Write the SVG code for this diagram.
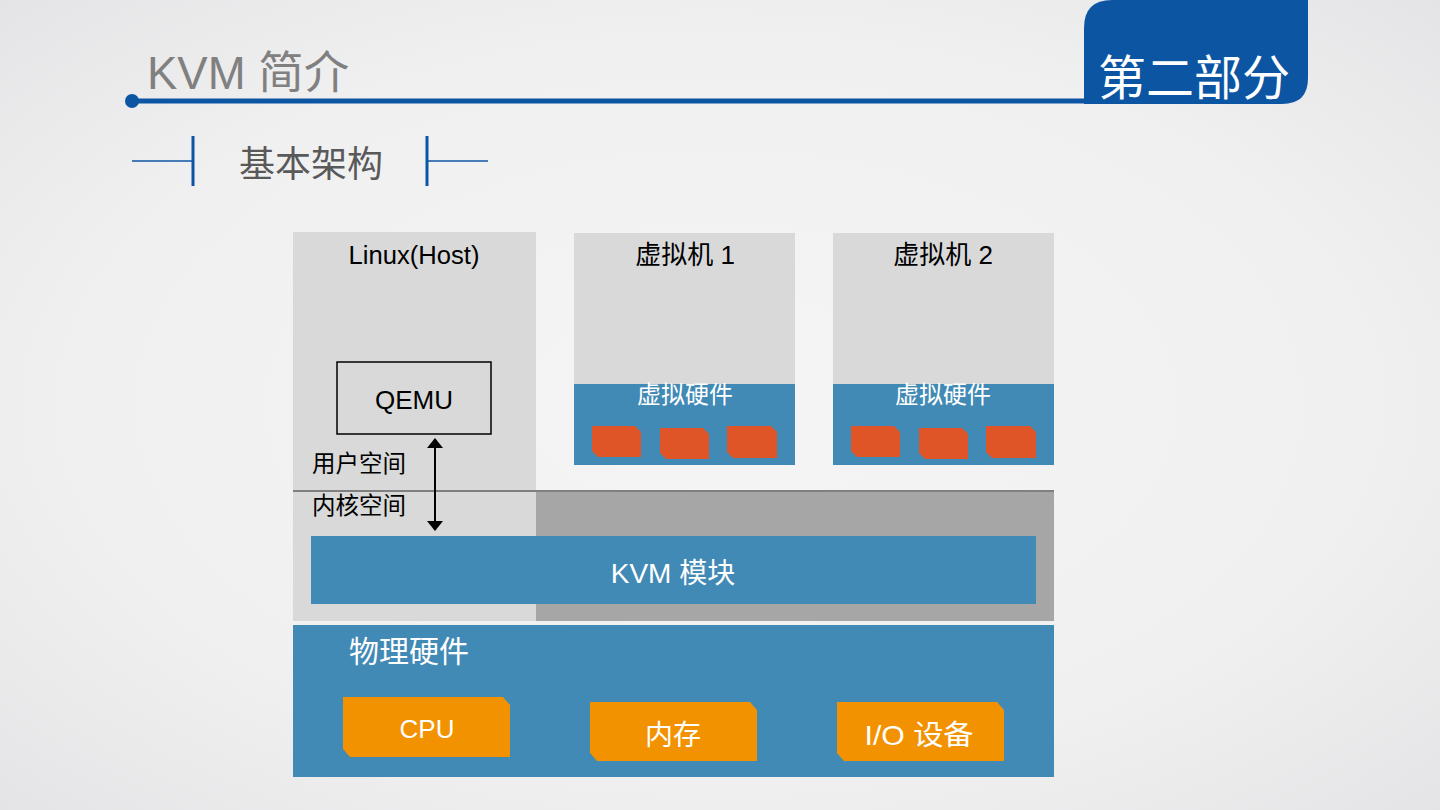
<svg xmlns="http://www.w3.org/2000/svg" width="1440" height="810" viewBox="0 0 1440 810">
<defs>
<radialGradient id="bg" cx="50%" cy="50%" r="75%">
<stop offset="0" stop-color="#f6f5f6"/>
<stop offset="0.6" stop-color="#f1f0f1"/>
<stop offset="1" stop-color="#e2e2e4"/>
</radialGradient>
<marker id="ah" viewBox="0 0 10 16" refX="9" refY="8" markerWidth="5" markerHeight="8" orient="auto-start-reverse">
<path d="M0,0 L10,8 L0,16 z" fill="#000"/>
</marker>
</defs>
<style>
.t{font-family:"Liberation Sans","Noto Sans CJK SC",sans-serif}
.w{fill:#fff}
.blue{fill:#418ab5}
.lg{fill:#d9d9d9}
.or{fill:#f39200}
.red{fill:#e05527}
</style>
<rect width="1440" height="810" fill="url(#bg)"/>
<g id="header">
<path d="M1084,104 L1084,28 Q1084,0 1112,0 L1308,0 L1308,78 Q1308,104 1282,104 Z" fill="#0b55a3"/>
<text class="t w" x="1194" y="95" font-size="48" text-anchor="middle">第二部分</text>
<text class="t" x="147" y="89" font-size="45.5" fill="#808080">KVM 简介</text>
<line x1="132" y1="101" x2="1086" y2="101" stroke="#0c55a3" stroke-width="5"/>
<circle cx="132" cy="101" r="7" fill="#0c55a3"/>
</g>
<g id="subtitle">
<line x1="132" y1="161" x2="193" y2="161" stroke="#0c55a3" stroke-width="1.5"/>
<line x1="193" y1="136" x2="193" y2="186" stroke="#0c55a3" stroke-width="3"/>
<text class="t" x="311" y="177" font-size="36" fill="#595959" text-anchor="middle">基本架构</text>
<line x1="427" y1="136" x2="427" y2="186" stroke="#0c55a3" stroke-width="3"/>
<line x1="427" y1="161" x2="488" y2="161" stroke="#0c55a3" stroke-width="1.5"/>
</g>
<g id="host">
<rect class="lg" x="293" y="232" width="243" height="389"/>
<rect x="536" y="491" width="518" height="130" fill="#a6a6a6"/>
<line x1="293" y1="491" x2="1054" y2="491" stroke="#808080" stroke-width="2"/>
<text class="t" x="414" y="264" font-size="25" fill="#000" text-anchor="middle" textLength="131" lengthAdjust="spacingAndGlyphs">Linux(Host)</text>
<text class="t" x="312" y="472" font-size="23.5" fill="#000">用户空间</text>
<text class="t" x="312" y="514" font-size="23.5" fill="#000">内核空间</text>
</g>
<g id="qemu">
<rect x="337" y="362" width="154" height="72" fill="none" stroke="#000" stroke-width="1.5"/>
<text class="t" x="414" y="409" font-size="26" fill="#000" text-anchor="middle">QEMU</text>
</g>
<g id="vm1">
<rect class="lg" x="574" y="233" width="221" height="151"/>
<rect class="blue" x="574" y="384" width="221" height="81"/>
<text class="t" x="685" y="264" font-size="26" fill="#000" text-anchor="middle">虚拟机 1</text>
<text class="t w" x="685" y="403" font-size="24" text-anchor="middle">虚拟硬件</text>
<path class="red" d="M592,426 H635 L641,432 V457 H598 L592,451 Z"/>
<path class="red" d="M660,428 H703 L709,434 V459 H666 L660,453 Z"/>
<path class="red" d="M727,426 H771 L777,432 V458 H733 L727,452 Z"/>
</g>
<g id="vm2">
<rect class="lg" x="833" y="233" width="221" height="151"/>
<rect class="blue" x="833" y="384" width="221" height="81"/>
<text class="t" x="943" y="264" font-size="26" fill="#000" text-anchor="middle">虚拟机 2</text>
<text class="t w" x="943" y="403" font-size="24" text-anchor="middle">虚拟硬件</text>
<path class="red" d="M851,426 H894 L900,432 V457 H857 L851,451 Z"/>
<path class="red" d="M919,428 H962 L968,434 V459 H925 L919,453 Z"/>
<path class="red" d="M986,426 H1030 L1036,432 V458 H992 L986,452 Z"/>
</g>
<g id="kvm">
<rect class="blue" x="311" y="536" width="725" height="68"/>
<text class="t w" x="673" y="583" font-size="28" text-anchor="middle">KVM 模块</text>
</g>
<g id="hardware">
<rect class="blue" x="293" y="625" width="761" height="152"/>
<text class="t w" x="349" y="662" font-size="30">物理硬件</text>
</g>
<g id="cpu">
<path class="or" d="M343,697 H503 L510,705 V757 H350 L343,749 Z"/>
<text class="t w" x="427" y="738" font-size="26" text-anchor="middle">CPU</text>
</g>
<g id="mem">
<path class="or" d="M590,702 H750 L757,710 V761 H597 L590,753 Z"/>
<text class="t w" x="673" y="745" font-size="28" text-anchor="middle">内存</text>
</g>
<g id="io">
<path class="or" d="M837,702 H997 L1004,710 V761 H844 L837,753 Z"/>
<text class="t w" x="919" y="745" font-size="28" text-anchor="middle" textLength="109" lengthAdjust="spacingAndGlyphs">I/O 设备</text>
</g>
<g id="connectors">
<line x1="435" y1="439" x2="435" y2="530" stroke="#000" stroke-width="2" marker-start="url(#ah)" marker-end="url(#ah)"/>
</g>
</svg>
